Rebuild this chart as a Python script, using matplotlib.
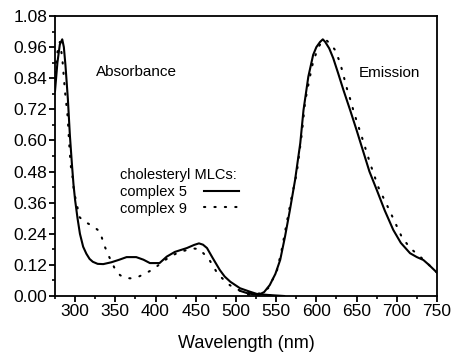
import matplotlib
matplotlib.use("Agg")
import matplotlib.pyplot as plt
from matplotlib.ticker import MultipleLocator, FormatStrFormatter

plt.rcParams['font.family'] = ['Liberation Sans', 'DejaVu Sans']

# complex 5 (solid) absorbance
abs5_nm = [275, 278, 281, 284, 286, 288, 291, 293.5, 296, 298, 300, 303, 306, 310, 314, 318,
           322, 328, 335, 345, 355, 364, 376, 385, 393, 405, 414, 424, 439, 448, 454, 459,
           464, 471, 480, 486, 493, 505, 517, 526, 540, 560]
abs5_val = [0.79, 0.90, 0.97, 0.99, 0.96, 0.89, 0.76, 0.62, 0.51, 0.43, 0.37, 0.30, 0.24,
            0.19, 0.163, 0.143, 0.132, 0.124, 0.123, 0.13, 0.14, 0.15, 0.15, 0.14, 0.127,
            0.127, 0.152, 0.17, 0.185, 0.197, 0.203, 0.198, 0.185, 0.147, 0.10, 0.075,
            0.055, 0.03, 0.017, 0.008, 0.004, 0.0]

# complex 9 (dotted) absorbance
abs9_nm = [275, 278, 281, 284, 287.4, 290.8, 292.4, 294.5, 297, 298.6, 302, 305, 310, 317,
           324, 331, 336, 342.5, 349.6, 356, 363, 371, 378.6, 386, 394, 402, 410, 420, 430,
           440, 448, 454.5, 461, 467.8, 477, 484, 490.5, 498, 506, 514, 521, 530, 545]
abs9_val = [0.86, 0.94, 0.98, 0.92, 0.79, 0.69, 0.60, 0.505, 0.455, 0.40, 0.358, 0.306,
            0.29, 0.278, 0.265, 0.248, 0.197, 0.15, 0.104, 0.08, 0.069, 0.068, 0.074,
            0.085, 0.098, 0.115, 0.135, 0.155, 0.17, 0.178, 0.183, 0.181, 0.16, 0.135,
            0.087, 0.065, 0.046, 0.03, 0.02, 0.014, 0.01, 0.006, 0.002]

# complex 5 (solid) emission
em5_nm = [505, 515, 527.8, 535, 542, 549, 555, 561, 567, 573.5, 580, 584, 590, 596, 600,
          604.6, 608, 611, 616, 621, 627, 633.6, 642, 650, 658, 666, 675, 685, 695.6, 705,
          716.5, 725, 733, 740, 750]
em5_val = [0.02, 0.01, 0.004, 0.015, 0.042, 0.085, 0.139, 0.229, 0.33, 0.447, 0.59, 0.717,
           0.846, 0.93, 0.96, 0.98, 0.99, 0.98, 0.955, 0.917, 0.86, 0.795, 0.717, 0.64,
           0.56, 0.48, 0.41, 0.33, 0.255, 0.205, 0.165, 0.15, 0.139, 0.12, 0.09]

# complex 9 (dotted) emission
em9_nm = [515, 530, 540, 550.7, 557, 563, 569, 575.6, 582, 586, 592, 596, 602.5, 608, 613,
          618, 623, 629.5, 638, 642, 647, 656.5, 667, 677, 691.7, 706, 716.5, 729, 740, 750]
em9_val = [0.005, 0.01, 0.03, 0.094, 0.18, 0.28, 0.378, 0.474, 0.628, 0.75, 0.846, 0.904,
           0.96, 0.985, 0.985, 0.97, 0.95, 0.90, 0.80, 0.76, 0.705, 0.614, 0.51, 0.42,
           0.325, 0.229, 0.185, 0.152, 0.12, 0.09]

legend_title = "cholesteryl MLCs:"
labels = ["complex 5", "complex 9"]

fig = plt.figure(figsize=(4.53, 3.55), dpi=100)
ax = fig.add_axes([55/453, 59/355, 382/453, 280/355])

lw = 1.5
dot = (0, (0.6, 4.4))
l5, = ax.plot(abs5_nm, abs5_val, color='black', lw=lw, label=labels[0])
ax.plot(em5_nm, em5_val, color='black', lw=lw)
l9, = ax.plot(abs9_nm, abs9_val, color='black', lw=lw, ls=dot,
              dash_capstyle='round', label=labels[1])
ax.plot(em9_nm, em9_val, color='black', lw=lw, ls=dot, dash_capstyle='round')

ax.set_xlim(275, 750)
ax.set_ylim(0, 1.08)
ax.xaxis.set_major_locator(MultipleLocator(50))
ax.xaxis.set_minor_locator(MultipleLocator(25))
ax.yaxis.set_major_locator(MultipleLocator(0.12))
ax.yaxis.set_minor_locator(MultipleLocator(0.06))
ax.yaxis.set_major_formatter(FormatStrFormatter('%.2f'))
ax.set_xticks([300, 350, 400, 450, 500, 550, 600, 650, 700, 750])

for s in ax.spines.values():
    s.set_linewidth(1.3)
ax.tick_params(which='major', direction='out', length=4, width=1.3, labelsize=12.5, pad=1.5)
ax.tick_params(which='minor', direction='out', length=2.5, width=1.2)
ax.set_xlabel("Wavelength (nm)", fontsize=13, labelpad=12)

ax.text(326, 0.864, "Absorbance", fontsize=11, va='center', ha='left')
ax.text(653, 0.86, "Emission", fontsize=11, va='center', ha='left')

leg = ax.legend(handles=[l5, l9], title=legend_title, markerfirst=False, frameon=False,
                loc='upper left', bbox_to_anchor=(0.17, 0.458), fontsize=10.5,
                title_fontsize=10.5, alignment='left', handlelength=2.4,
                handletextpad=1.2, borderpad=0, labelspacing=0.2, borderaxespad=0)

fig.savefig("out.png", dpi=100)
